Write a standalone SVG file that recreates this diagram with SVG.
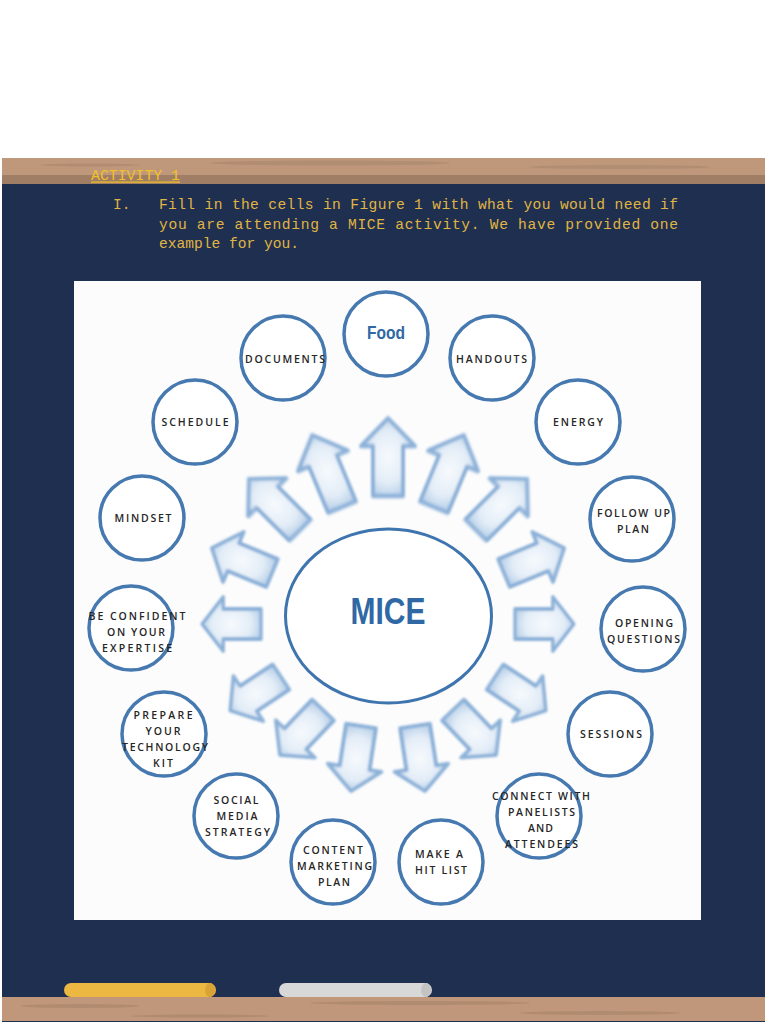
<svg xmlns="http://www.w3.org/2000/svg" xmlns:xlink="http://www.w3.org/1999/xlink" width="768" height="1024" viewBox="0 0 768 1024">
<defs>
<style>
.lbl{font-family:"Open Sans","DejaVu Sans",sans-serif;font-weight:600;font-size:10.5px;fill:#262626;text-anchor:middle}
.node{fill:#ffffff;stroke:#4679b0;stroke-width:3.5}
.mono{font-family:"Liberation Mono","DejaVu Sans Mono",monospace;font-size:14.6px;fill:#e0b543}
.arrow{fill:url(#arrowFill);stroke:#8bb0d8;stroke-width:4;stroke-linejoin:round;filter:url(#soft)}
</style>
<radialGradient id="arrowFill" cx="0.5" cy="0.5" r="0.6">
<stop offset="0" stop-color="#f7fafd"/>
<stop offset="0.55" stop-color="#e3edf7"/>
<stop offset="1" stop-color="#a9c6e4"/>
</radialGradient>
<filter id="soft" x="-30%" y="-30%" width="160%" height="160%">
<feGaussianBlur stdDeviation="1.3"/>
</filter>
<path id="arw" d="M0,-15 H45 V-27 L70,0 L45,27 V15 H0 Z"/>
</defs>

<rect x="0" y="0" width="768" height="1024" fill="#ffffff"/>

<!-- board -->
<rect x="2" y="158" width="763" height="864" fill="#1f2f50"/>
<!-- top wood -->
<rect x="2" y="158" width="763" height="18" fill="#bf987c"/>
<rect x="2" y="175" width="763" height="9" fill="#9f7e65"/>
<g fill="#a8856b" opacity="0.6">
<ellipse cx="330" cy="163" rx="120" ry="2.5"/>
<ellipse cx="620" cy="167" rx="90" ry="2"/>
<ellipse cx="90" cy="165" rx="50" ry="1.5"/>
</g>
<!-- bottom wood -->
<rect x="2" y="997" width="763" height="24" fill="#c0977a"/>
<g fill="#a8846a" opacity="0.6">
<ellipse cx="80" cy="1006" rx="60" ry="2"/>
<ellipse cx="420" cy="1003" rx="110" ry="2"/>
<ellipse cx="600" cy="1013" rx="80" ry="2"/>
<ellipse cx="200" cy="1016" rx="70" ry="1.5"/>
</g>
<!-- chalks -->
<rect x="64" y="983" width="152" height="14" rx="7" fill="#edb841"/>
<ellipse cx="210" cy="990" rx="5" ry="7" fill="#d9a436"/>
<rect x="279" y="983" width="153" height="14" rx="7" fill="#d8d8d8"/>
<ellipse cx="426" cy="990" rx="5" ry="7" fill="#c3c3c3"/>

<!-- header text -->
<text x="91" y="180" class="mono" style="fill:#f2c129" textLength="89" lengthAdjust="spacingAndGlyphs">ACTIVITY 1</text>
<rect x="91" y="181.5" width="89" height="1.2" fill="#f2c129"/>
<text x="113" y="209" class="mono">I.</text>
<text x="159" y="209" class="mono" textLength="519" lengthAdjust="spacing">Fill in the cells in Figure 1 with what you would need if</text>
<text x="159" y="229" class="mono" textLength="519" lengthAdjust="spacing">you are attending a MICE activity. We have provided one</text>
<text x="159" y="248" class="mono">example for you.</text>

<!-- figure panel -->
<rect x="74" y="281" width="627" height="639" fill="#fcfcfc"/>

<!-- connectors (arrows) -->
<g id="connectors">
<use xlink:href="#arw" class="arrow" transform="translate(388,496) rotate(-90) scale(1.11,1)"/>
<use xlink:href="#arw" class="arrow" transform="translate(342,507) rotate(-112.5) scale(1.11,1)"/>
<use xlink:href="#arw" class="arrow" transform="translate(434,507) rotate(-67.5) scale(1.11,1)"/>
<use xlink:href="#arw" class="arrow" transform="translate(300,530) rotate(-135) scale(1.03,1)"/>
<use xlink:href="#arw" class="arrow" transform="translate(476,530) rotate(-45) scale(1.03,1)"/>
<use xlink:href="#arw" class="arrow" transform="translate(272,573) rotate(-157.5) scale(0.93,1)"/>
<use xlink:href="#arw" class="arrow" transform="translate(504,573) rotate(-22.5) scale(0.93,1)"/>
<use xlink:href="#arw" class="arrow" transform="translate(261,624) rotate(180) scale(0.84,1)"/>
<use xlink:href="#arw" class="arrow" transform="translate(515,624) rotate(0) scale(0.84,1)"/>
<use xlink:href="#arw" class="arrow" transform="translate(281,677) rotate(146.5) scale(0.87,1)"/>
<use xlink:href="#arw" class="arrow" transform="translate(495,677) rotate(33.5) scale(0.87,1)"/>
<use xlink:href="#arw" class="arrow" transform="translate(323,710) rotate(133.7) scale(0.89,1)"/>
<use xlink:href="#arw" class="arrow" transform="translate(453,710) rotate(46.3) scale(0.89,1)"/>
<use xlink:href="#arw" class="arrow" transform="translate(361,726) rotate(98.7) scale(0.94,1)"/>
<use xlink:href="#arw" class="arrow" transform="translate(415,726) rotate(81.3) scale(0.94,1)"/>
</g>

<!-- center -->
<g id="node-mice">
<ellipse cx="388.5" cy="616" rx="103" ry="87" fill="#ffffff" stroke="#3f75ae" stroke-width="3"/>
<text x="388" y="624" font-family="'Liberation Sans',Arial,sans-serif" font-weight="700" font-size="36" fill="#2f68a4" text-anchor="middle" textLength="75" lengthAdjust="spacingAndGlyphs">MICE</text>
</g>

<g id="node-food">
<circle cx="386" cy="334" r="42" class="node"/>
<text x="386" y="339" font-family="'Liberation Sans',Arial,sans-serif" font-weight="700" font-size="18" fill="#2f68a4" text-anchor="middle" textLength="38" lengthAdjust="spacingAndGlyphs">Food</text>
</g>
<g id="node-documents">
<circle cx="283" cy="358" r="42" class="node"/>
<text x="285" y="362.5" class="lbl" textLength="80" lengthAdjust="spacing">DOCUMENTS</text>
</g>
<g id="node-handouts">
<circle cx="492" cy="358" r="42" class="node"/>
<text x="491.5" y="362.5" class="lbl" textLength="71" lengthAdjust="spacing">HANDOUTS</text>
</g>
<g id="node-schedule">
<circle cx="195" cy="422" r="42" class="node"/>
<text x="195" y="426" class="lbl" textLength="67" lengthAdjust="spacing">SCHEDULE</text>
</g>
<g id="node-energy">
<circle cx="578" cy="422" r="42" class="node"/>
<text x="578" y="426" class="lbl" textLength="50" lengthAdjust="spacing">ENERGY</text>
</g>
<g id="node-mindset">
<circle cx="142" cy="518" r="42" class="node"/>
<text x="143" y="522" class="lbl" textLength="57" lengthAdjust="spacing">MINDSET</text>
</g>
<g id="node-followup">
<circle cx="632" cy="519" r="42" class="node"/>
<text x="633.5" y="517" class="lbl" textLength="73" lengthAdjust="spacing">FOLLOW UP</text>
<text x="633" y="533" class="lbl" textLength="32" lengthAdjust="spacing">PLAN</text>
</g>
<g id="node-confident">
<circle cx="131" cy="628" r="42" class="node"/>
<text x="137" y="620" class="lbl" textLength="97" lengthAdjust="spacing">BE CONFIDENT</text>
<text x="136" y="636" class="lbl" textLength="58" lengthAdjust="spacing">ON YOUR</text>
<text x="137" y="652" class="lbl" textLength="70" lengthAdjust="spacing">EXPERTISE</text>
</g>
<g id="node-opening">
<circle cx="643" cy="629" r="42" class="node"/>
<text x="644" y="627" class="lbl" textLength="58" lengthAdjust="spacing">OPENING</text>
<text x="643.5" y="643" class="lbl" textLength="73" lengthAdjust="spacing">QUESTIONS</text>
</g>
<g id="node-technology">
<circle cx="164" cy="734" r="42" class="node"/>
<text x="163" y="719" class="lbl" textLength="59" lengthAdjust="spacing">PREPARE</text>
<text x="163" y="735" class="lbl" textLength="35" lengthAdjust="spacing">YOUR</text>
<text x="165" y="751" class="lbl" textLength="86" lengthAdjust="spacing">TECHNOLOGY</text>
<text x="163" y="767" class="lbl" textLength="20" lengthAdjust="spacing">KIT</text>
</g>
<g id="node-sessions">
<circle cx="610" cy="734" r="42" class="node"/>
<text x="611" y="737.5" class="lbl" textLength="62" lengthAdjust="spacing">SESSIONS</text>
</g>
<g id="node-social">
<circle cx="236" cy="816" r="42" class="node"/>
<text x="236" y="804" class="lbl" textLength="45" lengthAdjust="spacing">SOCIAL</text>
<text x="237" y="820" class="lbl" textLength="41" lengthAdjust="spacing">MEDIA</text>
<text x="237.5" y="836" class="lbl" textLength="65" lengthAdjust="spacing">STRATEGY</text>
</g>
<g id="node-connect">
<circle cx="539" cy="816" r="42" class="node"/>
<text x="541" y="800" class="lbl" textLength="98" lengthAdjust="spacing">CONNECT WITH</text>
<text x="541.5" y="816" class="lbl" textLength="67" lengthAdjust="spacing">PANELISTS</text>
<text x="540.5" y="832" class="lbl" textLength="25" lengthAdjust="spacing">AND</text>
<text x="541.5" y="848" class="lbl" textLength="73" lengthAdjust="spacing">ATTENDEES</text>
</g>
<g id="node-content">
<circle cx="333" cy="862" r="42" class="node"/>
<text x="333" y="854" class="lbl" textLength="60" lengthAdjust="spacing">CONTENT</text>
<text x="334.5" y="870" class="lbl" textLength="75" lengthAdjust="spacing">MARKETING</text>
<text x="334" y="886" class="lbl" textLength="32" lengthAdjust="spacing">PLAN</text>
</g>
<g id="node-hitlist">
<circle cx="441" cy="862" r="42" class="node"/>
<text x="439" y="858" class="lbl" textLength="48" lengthAdjust="spacing">MAKE A</text>
<text x="441" y="874" class="lbl" textLength="52" lengthAdjust="spacing">HIT LIST</text>
</g>
</svg>
